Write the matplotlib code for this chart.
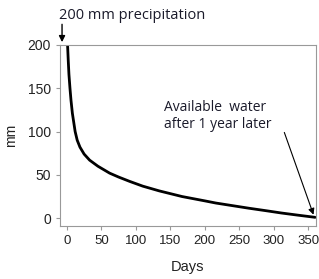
import matplotlib
matplotlib.use("Agg")
import matplotlib.pyplot as plt

plt.rcParams['font.family'] = ['Liberation Sans', 'DejaVu Sans']

days = [1, 2, 3, 4.5, 6, 8, 12, 15, 19, 25, 33, 45, 62, 75, 91, 110, 134,
        167, 200, 216, 240, 264, 290, 311, 335, 360]
water = [200, 182, 166, 150, 136, 121, 100, 90, 82, 74, 67, 60, 52, 47.5, 42.5, 37, 31.5,
         25, 20, 17.5, 14.5, 11.5, 8.5, 6, 3.5, 1]
xticks = [0, 50, 100, 150, 200, 250, 300, 350]
yticks = [0, 50, 100, 150, 200]

fig = plt.figure(figsize=(3.19, 2.79), dpi=100)
ax = fig.add_axes([0.188, 0.19, 0.802, 0.649])

ax.plot(days, water, color='black', lw=2, solid_capstyle='round', solid_joinstyle='round')

ax.set_xlim(-10, 361)
ax.set_ylim(-9, 200)
ax.set_xticks(xticks)
ax.set_yticks(yticks)
for s in ax.spines.values():
    s.set_color('#999999')
    s.set_linewidth(0.8)
ax.tick_params(colors='#999999', labelcolor='#222222', labelsize=10, length=3, width=0.8)
ax.tick_params(axis='x', labelsize=9.5)
ax.set_xlabel('Days', fontsize=10.5, color='#222222', labelpad=9)
ax.set_ylabel('mm', fontsize=10, color='#222222', labelpad=7)

ax.annotate('', xy=(-7, 200), xytext=(-7, 227), annotation_clip=False,
            arrowprops=dict(arrowstyle='-|>', color='black', lw=1, mutation_scale=9))
fig.text(0.185, 0.946, '200 mm precipitation', fontsize=10.5, color='#1a1a2a',
         va='center', family=['Open Sans', 'DejaVu Sans'])

ax.text(141, 118, 'Available  water\nafter 1 year later', fontsize=10, color='#1a1a2a',
        va='center', linespacing=1.25, family=['Open Sans', 'DejaVu Sans'])
ax.annotate('', xy=(359, 1), xytext=(314, 102), annotation_clip=False,
            arrowprops=dict(arrowstyle='-|>', color='black', lw=0.8, mutation_scale=9))

fig.savefig('out.png', dpi=100)
